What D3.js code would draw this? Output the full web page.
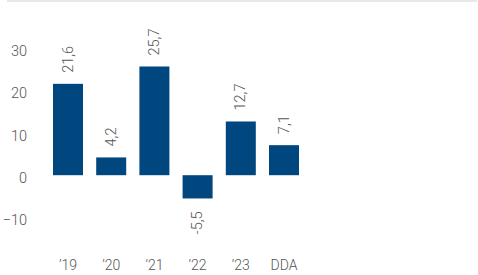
<!DOCTYPE html>
<html><head><meta charset="utf-8">
<script src="https://cdnjs.cloudflare.com/ajax/libs/d3/7.8.5/d3.min.js"></script>
<style>
html,body{margin:0;padding:0;background:#fff;}
text{font-family:"Liberation Sans Narrow","Roboto","DejaVu Sans Condensed",sans-serif;font-weight:300;fill:#555;}
</style></head>
<body><svg id="c" width="478" height="275"></svg>
<script>
const categories = ["’19","’20","’21","’22","’23","DDA"];
const values = [21.6, 4.2, 25.7, -5.5, 12.7, 7.1];
const valueLabels = ["21,6","4,2","25,7","-5,5","12,7","7,1"];
const yTicks = [-10, 0, 10, 20, 30];

const svg = d3.select("#c");
svg.append("rect").attr("x",7).attr("y",0).attr("width",470).attr("height",2).attr("fill","#e8e8e8");

const y = d3.scaleLinear().domain([-10,30]).range([217.5,48.3]);
const x = d3.scaleBand().domain(categories).range([46.4,305.6]).paddingInner(0.3056).paddingOuter(0.1528);

const yAxis = d3.axisLeft(y).tickValues(yTicks).tickSize(0).tickPadding(0).tickFormat(d3.format("d"));
const ga = svg.append("g").attr("transform","translate(27,2.5)").call(yAxis);
ga.select(".domain").remove();
ga.selectAll("text").attr("font-size",14.5).attr("fill","#555").style("font-family",null);

const xAxis = d3.axisBottom(x).tickSize(0).tickPadding(0);
const gx = svg.append("g").attr("transform","translate(0,260)").call(xAxis);
gx.select(".domain").remove();
gx.selectAll("text").attr("font-size",14).attr("fill","#555").style("font-family",null);

svg.selectAll("rect.bar").data(values).enter().append("rect").attr("class","bar")
  .attr("x",(d,i)=>x(categories[i]))
  .attr("width",x.bandwidth())
  .attr("y",d=>y(Math.max(0,d)))
  .attr("height",d=>Math.abs(y(d)-y(0)))
  .attr("fill","#00467f");

svg.selectAll("text.val").data(values).enter().append("text").attr("class","val")
  .attr("font-size",14.5)
  .attr("dominant-baseline","central")
  .attr("text-anchor","start")
  .attr("transform",(d,i)=>{
    const cx = x(categories[i]) + x.bandwidth()/2;
    const yy = d>=0 ? y(d)-11 : y(d)+36;
    return `translate(${cx},${yy}) rotate(-90)`;
  })
  .text((d,i)=>valueLabels[i]);
</script></body></html>
